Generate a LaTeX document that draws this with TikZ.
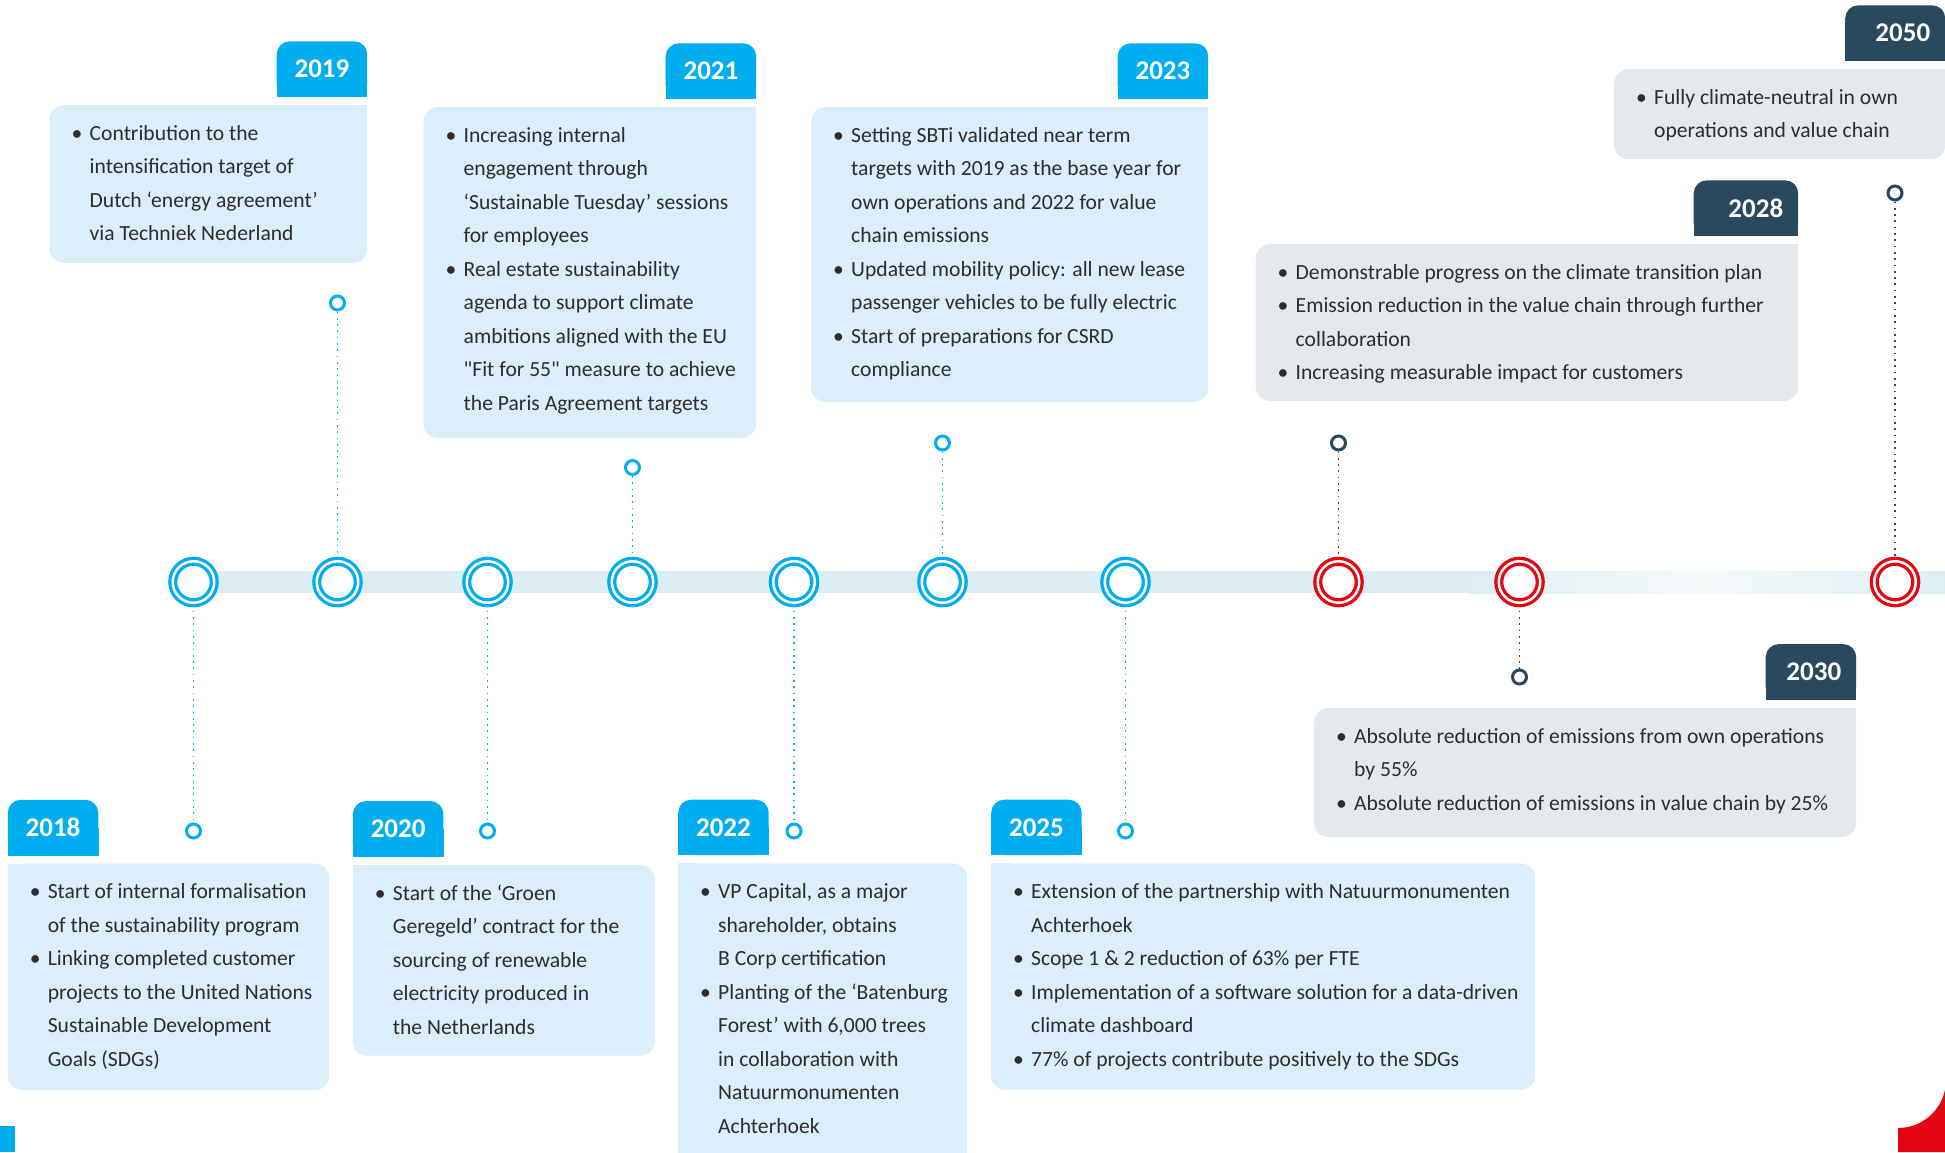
\documentclass[tikz,border=0pt]{standalone}
\usepackage{fontspec}
\setmainfont{Carlito}
\usepackage{tikz}
\usetikzlibrary{calc,positioning,backgrounds}
\usepackage{xcolor}
\definecolor{tabblue}{HTML}{00AEEF}
\definecolor{paleblue}{HTML}{DAEEFB}
\definecolor{navy}{HTML}{28495E}
\definecolor{palegrey}{HTML}{E5E8EC}
\definecolor{barblue}{HTML}{DCEEF4}
\definecolor{barlight}{HTML}{F6FAFB}
\definecolor{vpred}{HTML}{E30613}
\definecolor{ink}{HTML}{2D2D2D}
\newcommand{\bul}{\makebox[18pt][l]{\strut\textbullet}}
\newcommand{\ind}{\hspace*{18pt}}

\begin{document}
\begin{tikzpicture}[x=1pt,y=-1pt,
  bluering/.style={circle,draw=tabblue,double=white,double distance=2.5pt,line width=3.3pt,fill=white,minimum size=41.5pt,inner sep=0pt},
  redring/.style={bluering,draw=vpred},
  bluedot/.style={circle,draw=tabblue,line width=3pt,fill=white,minimum size=14pt,inner sep=0pt},
  navydot/.style={bluedot,draw=navy},
  bluelink/.style={draw=tabblue,line width=1.7pt,dash pattern=on 1.7pt off 4.6pt},
  navylink/.style={bluelink,draw=navy},
  bluebox/.style={fill=paleblue,rounded corners=14pt,anchor=north west,inner sep=0pt},
  greybox/.style={bluebox,fill=palegrey},
  notes/.style={inner sep=0pt,align=left,text=ink,font=\fontsize{21.6}{33.5}\selectfont},
  bluetab/.style={fill=tabblue,text=white,rounded corners=13pt,minimum width=90.5pt,minimum height=55.5pt,inner sep=0pt,font=\bfseries\fontsize{27}{27}\selectfont},
  navytab/.style={bluetab,fill=navy,align=right,inner xsep=15pt}]
\useasboundingbox (0,0) rectangle (1945,1152);
\clip (0,0) rectangle (1945,1152);

\node[bluering] (R18) at (193.5,582) {};
\node[bluering] (R19) at (337.5,582) {};
\node[bluering] (R20) at (487.5,582) {};
\node[bluering] (R21) at (632.5,582) {};
\node[bluering] (R22) at (794,582) {};
\node[bluering] (R23) at (942.5,582) {};
\node[bluering] (R25) at (1125.5,582) {};
\node[redring] (R28) at (1338.5,582) {};
\node[redring] (R30) at (1519.5,582) {};
\node[redring] (R50) at (1895,582) {};

\node[bluedot] (P18) at (R18 |- 0,831) {};
\node[bluedot] (P19) at (R19 |- 0,303) {};
\node[bluedot] (P20) at (R20 |- 0,831) {};
\node[bluedot] (P21) at (R21 |- 0,467.5) {};
\node[bluedot] (P22) at (R22 |- 0,831) {};
\node[bluedot] (P23) at (R23 |- 0,443) {};
\node[bluedot] (P25) at (R25 |- 0,831) {};
\node[navydot] (P28) at (R28 |- 0,443) {};
\node[navydot] (P30) at (R30 |- 0,677) {};
\node[navydot] (P50) at (R50 |- 0,193) {};

\node[bluebox,minimum width=321.4pt,minimum height=226.3pt] (B18) at (7.6,863.5) {};
\node[notes,below right=11.55pt and 22pt of B18.north west] (T18) {\bul Start of internal formalisation\\ \ind of the sustainability program\\ \bul Linking completed customer\\ \ind projects to the United Nations\\ \ind Sustainable Development\\ \ind Goals (SDGs)};
\node[bluetab,above right=8pt and 0pt of B18.north west] (Y18) {2018};

\node[bluebox,minimum width=317.5pt,minimum height=157.7pt] (B19) at (49.5,105) {};
\node[notes,below right=11.55pt and 22pt of B19.north west] (T19) {\bul Contribution to the\\ \ind intensification target of\\ \ind Dutch ‘energy agreement’\\ \ind via Techniek Nederland};
\node[bluetab,above left=8pt and 0pt of B19.north east] (Y19) {2019};

\node[bluebox,minimum width=301.8pt,minimum height=190.7pt] (B20) at (352.7,864.8) {};
\node[notes,below right=11.55pt and 22pt of B20.north west] (T20) {\bul Start of the ‘Groen\\ \ind Geregeld’ contract for the\\ \ind sourcing of renewable\\ \ind electricity produced in\\ \ind the Netherlands};
\node[bluetab,above right=8pt and 0pt of B20.north west] (Y20) {2020};

\node[bluebox,minimum width=332.5pt,minimum height=330.7pt] (B21) at (423.5,107) {};
\node[notes,below right=11.55pt and 22pt of B21.north west] (T21) {\bul Increasing internal\\ \ind engagement through\\ \ind ‘Sustainable Tuesday’ sessions\\ \ind for employees\\ \bul Real estate sustainability\\ \ind agenda to support climate\\ \ind ambitions aligned with the EU\\ \ind \textquotedbl Fit for 55\textquotedbl{} measure to achieve\\ \ind the Paris Agreement targets};
\node[bluetab,above left=8pt and 0pt of B21.north east] (Y21) {2021};

\node[bluebox,minimum width=289pt,minimum height=310pt] (B22) at (678,863.4) {};
\node[notes,below right=11.55pt and 22pt of B22.north west] (T22) {\bul VP Capital, as a major\\ \ind shareholder, obtains\\ \ind B Corp certification\\ \bul Planting of the ‘Batenburg\\ \ind Forest’ with 6,000 trees\\ \ind in collaboration with\\ \ind Natuurmonumenten\\ \ind Achterhoek};
\node[bluetab,above right=8pt and 0pt of B22.north west] (Y22) {2022};

\node[bluebox,minimum width=397pt,minimum height=294.7pt] (B23) at (811,107) {};
\node[notes,below right=11.55pt and 22pt of B23.north west] (T23) {\bul Setting SBTi validated near term\\ \ind targets with 2019 as the base year for\\ \ind own operations and 2022 for value\\ \ind chain emissions\\ \bul Updated mobility policy: all new lease\\ \ind passenger vehicles to be fully electric\\ \bul Start of preparations for CSRD\\ \ind compliance};
\node[bluetab,above left=8pt and 0pt of B23.north east] (Y23) {2023};

\node[bluebox,minimum width=544pt,minimum height=226.1pt] (B25) at (991,863.4) {};
\node[notes,below right=11.55pt and 22pt of B25.north west] (T25) {\bul Extension of the partnership with Natuurmonumenten\\ \ind Achterhoek\\ \bul Scope 1 \& 2 reduction of 63\% per FTE\\ \bul Implementation of a software solution for a data-driven\\ \ind climate dashboard\\ \bul 77\% of projects contribute positively to the SDGs};
\node[bluetab,above right=8pt and 0pt of B25.north west] (Y25) {2025};

\node[greybox,minimum width=542.5pt,minimum height=156.7pt] (B28) at (1255.5,244) {};
\node[notes,below right=11.55pt and 22pt of B28.north west] (T28) {\bul Demonstrable progress on the climate transition plan\\ \bul Emission reduction in the value chain through further\\ \ind collaboration\\ \bul Increasing measurable impact for customers};
\node[navytab,text width=74.5pt,above left=8pt and 0pt of B28.north east] (Y28) {2028};

\node[greybox,minimum width=542pt,minimum height=129pt] (B30) at (1314,707.8) {};
\node[notes,below right=11.55pt and 22pt of B30.north west] (T30) {\bul Absolute reduction of emissions from own operations\\ \ind by 55\%\\ \bul Absolute reduction of emissions in value chain by 25\%};
\node[navytab,text width=60.5pt,above left=8pt and 0pt of B30.north east] (Y30) {2030};

\node[greybox,minimum width=331pt,minimum height=90pt] (B50) at (1614,69) {};
\node[notes,below right=11.55pt and 22pt of B50.north west] (T50) {\bul Fully climate-neutral in own\\ \ind operations and value chain};
\node[navytab,text width=70pt,above left=8pt and 0pt of B50.north east] (Y50) {2050};

\fill[tabblue] (0,1126) rectangle (15,1152);
\fill[vpred] (1898,1152) -- (1898,1128) .. controls (1924.5,1128) and (1946,1106.5) .. (1946,1080) -- (1950,1080) -- (1950,1152) -- cycle;

\begin{scope}[on background layer]
\fill[white] (0,0) rectangle (1945,1152);
\fill[barblue] (193.5,571) rectangle (1470,593);
\shade[left color=barblue,right color=barlight] (1470,571) rectangle (1700,593);
\shade[left color=barlight,right color=barblue] (1700,571) rectangle (1945,593);
\path[bluelink] (R18) edge (P18) (P19) edge (R19) (R20) edge (P20) (P21) edge (R21)
  (R22) edge (P22) (P23) edge (R23) (R25) edge (P25);
\path[navylink] (P28) edge (R28) (R30) edge (P30) (P50) edge (R50);
\foreach \t in {Y18,Y19,Y20,Y21,Y22,Y23,Y25}
  \fill[tabblue] (\t.west) rectangle (\t.south east);
\foreach \t in {Y28,Y30,Y50}
  \fill[navy] (\t.west) rectangle (\t.south east);
\foreach \b in {B18,B20,B22,B25}
  \fill[paleblue] (\b.north west) rectangle ++(20,20);
\foreach \b in {B19,B21,B23}
  \fill[paleblue] (\b.north east) rectangle ++(-20,20);
\foreach \b in {B28,B30,B50}
  \fill[palegrey] (\b.north east) rectangle ++(-20,20);
\end{scope}
\end{tikzpicture}
\end{document}
